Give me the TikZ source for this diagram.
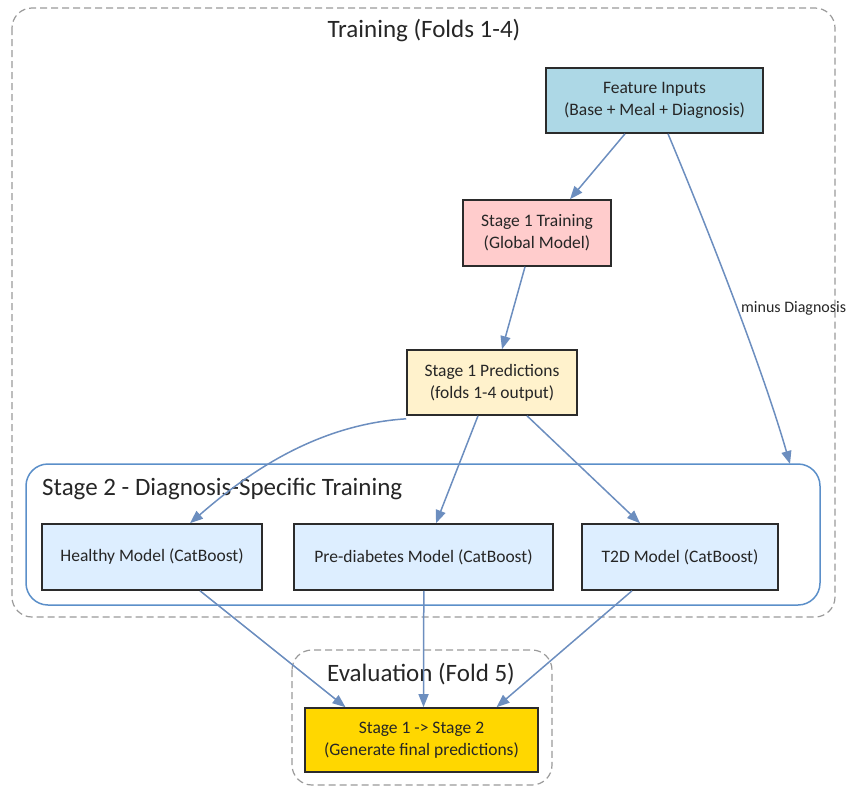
\documentclass[tikz,border=0pt]{standalone}
\usepackage{fontspec}
\setmainfont{Carlito}
\usetikzlibrary{arrows.meta,calc}
\definecolor{edgeblue}{HTML}{6C8EBF}
\definecolor{clusterblue}{HTML}{5B8FC9}
\definecolor{dashgray}{HTML}{9A9A9A}
\definecolor{featfill}{HTML}{ADD8E6}
\definecolor{trainfill}{HTML}{FFCCCC}
\definecolor{predfill}{HTML}{FFF2CC}
\definecolor{modelfill}{HTML}{DDEEFF}
\definecolor{finalfill}{HTML}{FFD700}
\definecolor{boxline}{HTML}{2B2B2B}
\tikzset{
  box/.style={draw=boxline, line width=1.6pt, align=center, font=\fontsize{17.5}{22}\selectfont, text=black!85, inner sep=2pt},
  dashcluster/.style={draw=dashgray, line width=1.2pt, dash pattern=on 7pt off 4pt, rounded corners=20pt},
  bluecluster/.style={draw=clusterblue, line width=1.5pt, rounded corners=22pt},
  flow/.style={draw=edgeblue, line width=1.5pt, -{Triangle[length=13pt,width=10pt]}},
  ctitle/.style={font=\fontsize{25}{28}\selectfont, text=black!85, inner sep=0pt},
}
\begin{document}
\begin{tikzpicture}[x=1pt,y=-1pt]
\useasboundingbox (0,0) rectangle (848,787);
% clusters
\draw[dashcluster] (12,8) rectangle (835,617);
\node[ctitle] (ttrain) at (424,31) {Training (Folds 1-4)};
\draw[dashcluster] (292,650) rectangle (552,785);
\node[ctitle] (teval) at (421,674) {Evaluation (Fold 5)};
\draw[bluecluster] (26,464) rectangle (820,605);
\node[ctitle, anchor=west] (tstage2) at (42,489) {Stage 2 - Diagnosis-Specific Training};
\coordinate (s2top) at (790,464);
% nodes
\node[box, fill=featfill, minimum width=217pt, minimum height=65pt] (feat) at (654.5,100.5) {Feature Inputs\\(Base + Meal + Diagnosis)};
\node[box, fill=trainfill, minimum width=148pt, minimum height=66pt] (s1t) at (537,233) {Stage 1 Training\\(Global Model)};
\node[box, fill=predfill, minimum width=170pt, minimum height=65pt] (pred) at (492,382.5) {Stage 1 Predictions\\(folds 1-4 output)};
\node[box, fill=modelfill, minimum width=220pt, minimum height=66pt] (healthy) at (152,557) {Healthy Model (CatBoost)};
\node[box, fill=modelfill, minimum width=259pt, minimum height=66pt] (prediab) at (423.5,557) {Pre-diabetes Model (CatBoost)};
\node[box, fill=modelfill, minimum width=196pt, minimum height=66pt] (t2d) at (680,557) {T2D Model (CatBoost)};
\node[box, fill=finalfill, minimum width=233pt, minimum height=64pt] (final) at (421.5,740) {Stage 1 -> Stage 2\\(Generate final predictions)};
% edges
\draw[flow] ([xshift=-29.5pt]feat.south) -- ([xshift=33pt]s1t.north);
\draw[flow] ([xshift=13.5pt]feat.south) .. controls (700,210) and (760,360) .. (s2top);
\node[anchor=west, font=\fontsize{16}{18}\selectfont, text=black!85, inner sep=0pt] (lbl) at (741,308) {minus Diagnosis};
\draw[flow] ([xshift=-12pt]s1t.south) -- ([xshift=10pt]pred.north);
\draw[flow] ([yshift=-3pt]pred.south west) .. controls (310,425) and (240,480) .. ([xshift=38pt]healthy.north);
\draw[flow] ([xshift=-14pt]pred.south) -- ([xshift=12.5pt]prediab.north);
\draw[flow] ([xshift=35pt]pred.south) -- ([xshift=-40pt]t2d.north);
\draw[flow] ([xshift=48pt]healthy.south) -- ([xshift=-76pt]final.north);
\draw[flow] ([xshift=0.3pt]prediab.south) -- ([xshift=2pt]final.north);
\draw[flow] ([xshift=-48pt]t2d.south) -- ([xshift=75pt]final.north);
\end{tikzpicture}
\end{document}
